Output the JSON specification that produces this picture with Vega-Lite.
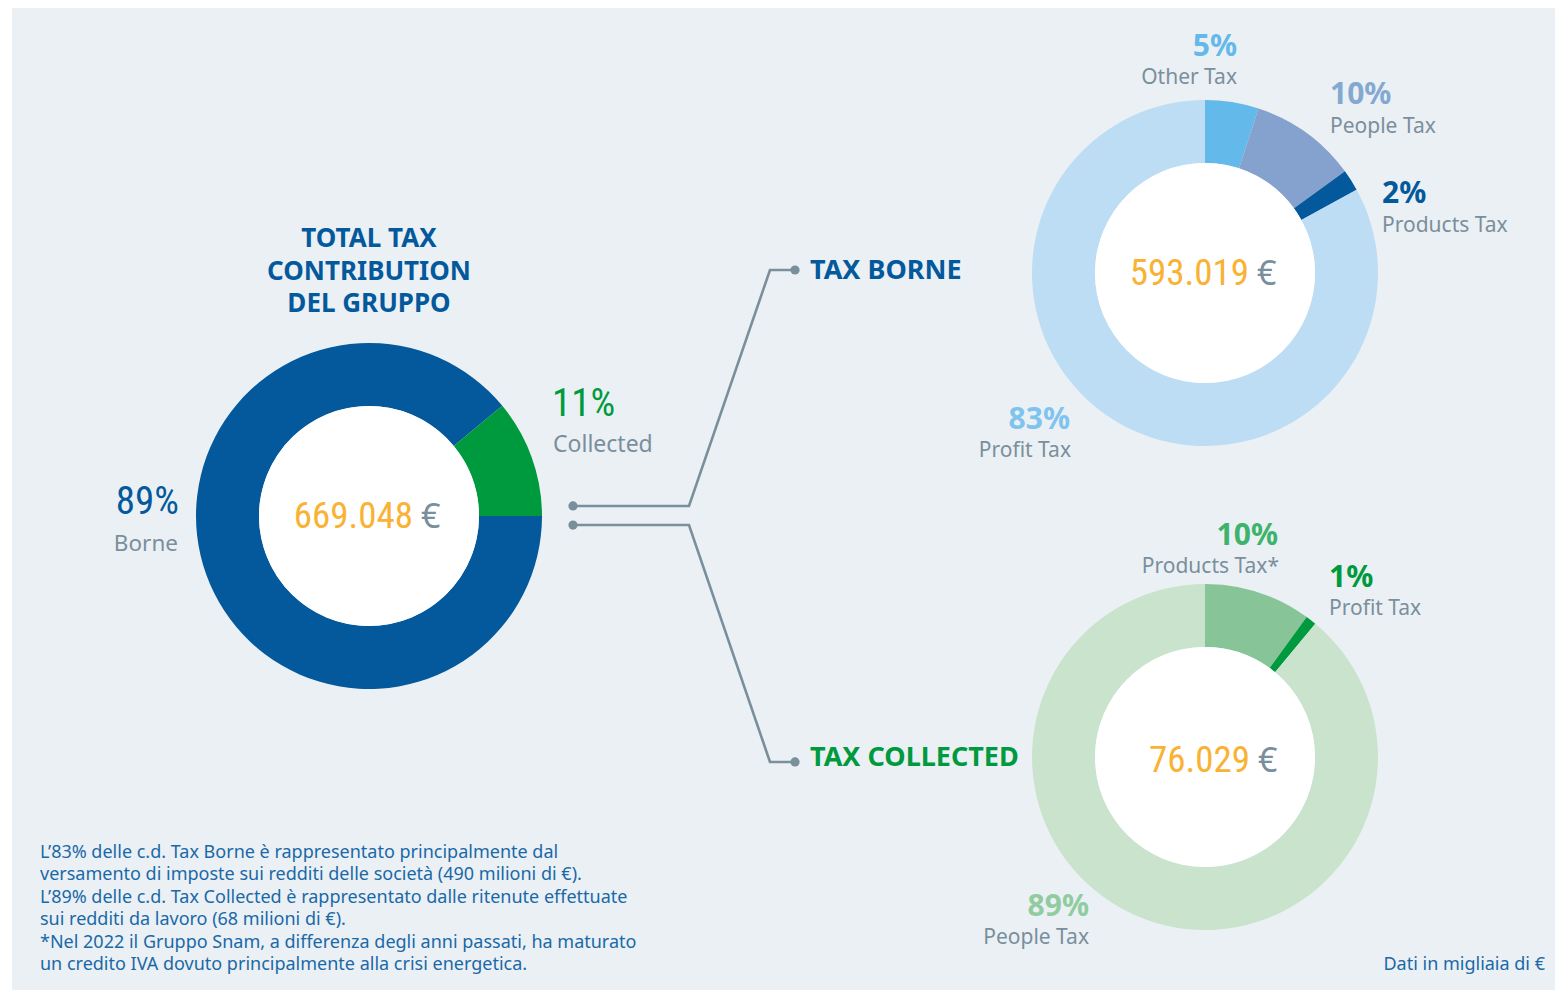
{
  "$schema": "https://vega.github.io/schema/vega-lite/v6.json",
  "background": "white",
  "padding": {"left": 12, "top": 8, "right": 2, "bottom": 2},
  "config": {
    "view": {"fill": "#EBF0F5", "stroke": null},
    "font": "Noto Sans",
    "locale": {"number": {"decimal": ",", "thousands": ".", "grouping": [3], "currency": ["", " €"]}}
  },
  "datasets": {
    "total": [
      {"seg": "Borne", "pct": 0.89, "k": 1},
      {"seg": "Collected", "pct": 0.11, "k": 2}
    ],
    "borne": [
      {"seg": "Other Tax", "pct": 0.05, "k": 1},
      {"seg": "People Tax", "pct": 0.10, "k": 2},
      {"seg": "Products Tax", "pct": 0.02, "k": 3},
      {"seg": "Profit Tax", "pct": 0.83, "k": 4}
    ],
    "collected": [
      {"seg": "Products Tax*", "pct": 0.10, "k": 1},
      {"seg": "Profit Tax", "pct": 0.01, "k": 2},
      {"seg": "People Tax", "pct": 0.89, "k": 3}
    ],
    "amounts": [
      {"group": "Total", "amount": 669048, "unit": "€"},
      {"group": "Borne", "amount": 593019, "unit": "€"},
      {"group": "Collected", "amount": 76029, "unit": "€"}
    ],
    "connectors": [
      {"conn": "borne", "k": 1, "x": 9.9, "y": 50.71},
      {"conn": "borne", "k": 2, "x": 46.96, "y": 50.71},
      {"conn": "borne", "k": 3, "x": 72.84, "y": 26.68},
      {"conn": "borne", "k": 4, "x": 80.83, "y": 26.68},
      {"conn": "collected", "k": 1, "x": 9.9, "y": 52.65},
      {"conn": "collected", "k": 2, "x": 46.96, "y": 52.65},
      {"conn": "collected", "k": 3, "x": 72.84, "y": 76.78},
      {"conn": "collected", "k": 4, "x": 80.83, "y": 76.78}
    ],
    "dots": [
      {"x": 9.9, "y": 50.71},
      {"x": 9.9, "y": 52.65},
      {"x": 80.83, "y": 26.68},
      {"x": 80.83, "y": 76.78}
    ]
  },
  "hconcat": [
    {
      "width": 184, "height": 982,
      "view": {"fill": "#EBF0F5", "stroke": null},
      "data": {"values": [{}]},
      "mark": {"type": "text"},
      "encoding": {"text": {"value": ""}}
    },
    {
      "width": 346, "height": 982,
      "view": {"fill": "#EBF0F5", "stroke": null},
      "data": {"name": "total"},
      "layer": [
        {
          "mark": {"type": "arc", "outerRadius": 173, "innerRadius": 110, "yOffset": 17},
          "encoding": {
            "theta": {"field": "pct", "type": "quantitative", "stack": true, "scale": {"range": [1.5708, 7.854]}},
            "order": {"field": "k"},
            "color": {"field": "seg", "type": "nominal", "scale": {"domain": ["Borne", "Collected"], "range": ["#03599B", "#009A3E"]}, "legend": null}
          }
        },
        {
          "data": {"values": [{"v": 1}]},
          "mark": {"type": "arc", "outerRadius": 110, "fill": "white", "yOffset": 17},
          "encoding": {"theta": {"field": "v", "type": "quantitative", "scale": {"domain": [0, 1]}}}
        },
        {
          "transform": [{"filter": "datum.k === 1"}],
          "mark": {"type": "text", "align": "center", "baseline": "middle", "dy": -260, "lineHeight": 32.5, "fontSize": 26, "fontWeight": "bold", "color": "#03599B"},
          "encoding": {"text": {"value": ["TOTAL TAX", "CONTRIBUTION", "DEL GRUPPO"]}}
        },
        {
          "transform": [{"filter": "datum.seg === 'Borne'"}],
          "mark": {"type": "text", "align": "right", "baseline": "middle", "dx": -190, "dy": 3, "font": "'Roboto Condensed', 'Open Sans Condensed', 'Liberation Sans Narrow', 'Noto Sans'", "fontSize": 39, "color": "#03599B"},
          "encoding": {"text": {"field": "pct", "type": "quantitative", "format": ".0%"}}
        },
        {
          "transform": [{"filter": "datum.seg === 'Borne'"}],
          "mark": {"type": "text", "align": "right", "baseline": "middle", "dx": -191, "dy": 45, "fontSize": 22.5, "color": "#7A8F9C"},
          "encoding": {"text": {"field": "seg"}}
        },
        {
          "data": {"name": "amounts"},
          "transform": [{"filter": "datum.group === 'Total'"}],
          "mark": {"type": "text", "align": "right", "baseline": "middle", "dx": 44, "dy": 18, "font": "'Roboto Condensed', 'Open Sans Condensed', 'Liberation Sans Narrow', 'Noto Sans'", "fontSize": 37, "color": "#F9B233"},
          "encoding": {"text": {"field": "amount", "type": "quantitative", "format": ",d"}}
        },
        {
          "data": {"name": "amounts"},
          "transform": [{"filter": "datum.group === 'Total'"}],
          "mark": {"type": "text", "align": "left", "baseline": "middle", "dx": 52, "dy": 19, "fontSize": 34, "color": "#7A8F9C"},
          "encoding": {"text": {"field": "unit"}}
        }
      ],
      "resolve": {"scale": {"theta": "independent"}}
    },
    {
      "width": 313, "height": 982,
      "view": {"fill": "#EBF0F5", "stroke": null},
      "layer": [
        {
          "data": {"name": "connectors"},
          "mark": {"type": "line", "color": "#7A8F9C", "strokeWidth": 2.6},
          "encoding": {
            "x": {"field": "x", "type": "quantitative", "scale": {"domain": [0, 100]}, "axis": null},
            "y": {"field": "y", "type": "quantitative", "scale": {"domain": [0, 100], "reverse": true}, "axis": null},
            "detail": {"field": "conn"},
            "order": {"field": "k"}
          }
        },
        {
          "data": {"name": "dots"},
          "mark": {"type": "circle", "size": 85, "color": "#7A8F9C", "opacity": 1},
          "encoding": {
            "x": {"field": "x", "type": "quantitative"},
            "y": {"field": "y", "type": "quantitative"}
          }
        },
        {
          "data": {"name": "total"},
          "transform": [{"filter": "datum.seg === 'Collected'"}],
          "mark": {"type": "text", "align": "left", "baseline": "middle", "dx": -146.5, "dy": -95, "font": "'Roboto Condensed', 'Open Sans Condensed', 'Liberation Sans Narrow', 'Noto Sans'", "fontSize": 39, "color": "#009A3E"},
          "encoding": {"text": {"field": "pct", "type": "quantitative", "format": ".0%"}}
        },
        {
          "data": {"name": "total"},
          "transform": [{"filter": "datum.seg === 'Collected'"}],
          "mark": {"type": "text", "align": "left", "baseline": "middle", "dx": -145.5, "dy": -54, "fontSize": 23, "color": "#7A8F9C"},
          "encoding": {"text": {"field": "seg"}}
        },
        {
          "data": {"values": [{}]},
          "mark": {"type": "text", "align": "left", "baseline": "middle", "dx": -658.5, "dy": 354, "lineHeight": 22.4, "fontSize": 18, "color": "#1A69A7"},
          "encoding": {"text": {"value": [
            "L’83% delle c.d. Tax Borne è rappresentato principalmente dal",
            "versamento di imposte sui redditi delle società (490 milioni di €).",
            "L’89% delle c.d. Tax Collected è rappresentato dalle ritenute effettuate",
            "sui redditi da lavoro (68 milioni di €).",
            "*Nel 2022 il Gruppo Snam, a differenza degli anni passati, ha maturato",
            "un credito IVA dovuto principalmente alla crisi energetica."
          ]}}
        }
      ]
    },
    {
      "width": 700, "height": 982,
      "view": {"fill": "#EBF0F5", "stroke": null},
      "layer": [
        {
          "data": {"name": "borne"},
          "mark": {"type": "arc", "outerRadius": 173, "innerRadius": 110, "yOffset": -226},
          "encoding": {
            "theta": {"field": "pct", "type": "quantitative", "stack": true},
            "order": {"field": "k"},
            "color": {"field": "seg", "type": "nominal", "scale": {"domain": ["Other Tax", "People Tax", "Products Tax", "Profit Tax"], "range": ["#63B9E9", "#85A1CD", "#03599B", "#BCDDF4"]}, "legend": null}
          }
        },
        {
          "data": {"name": "collected"},
          "mark": {"type": "arc", "outerRadius": 173, "innerRadius": 110, "yOffset": 258},
          "encoding": {
            "theta": {"field": "pct", "type": "quantitative", "stack": true},
            "order": {"field": "k"},
            "color": {"field": "seg", "type": "nominal", "scale": {"domain": ["Products Tax*", "Profit Tax", "People Tax"], "range": ["#87C598", "#009A3E", "#C9E3CD"]}, "legend": null}
          }
        },
        {
          "data": {"values": [{"v": 1}]},
          "mark": {"type": "arc", "outerRadius": 110, "fill": "white", "yOffset": -226},
          "encoding": {"theta": {"field": "v", "type": "quantitative", "scale": {"domain": [0, 1]}}}
        },
        {
          "data": {"values": [{"v": 1}]},
          "mark": {"type": "arc", "outerRadius": 110, "fill": "white", "yOffset": 258},
          "encoding": {"theta": {"field": "v", "type": "quantitative", "scale": {"domain": [0, 1]}}}
        },
        {
          "data": {"values": [{}]},
          "mark": {"type": "text", "align": "left", "baseline": "middle", "dx": -395, "dy": -228, "fontSize": 27, "fontWeight": "bold", "color": "#03599B"},
          "encoding": {"text": {"value": "TAX BORNE"}}
        },
        {
          "data": {"values": [{}]},
          "mark": {"type": "text", "align": "left", "baseline": "middle", "dx": -395, "dy": 259, "fontSize": 27, "fontWeight": "bold", "color": "#009A3E"},
          "encoding": {"text": {"value": "TAX COLLECTED"}}
        },
        {
          "data": {"name": "borne"},
          "transform": [{"filter": "datum.seg === 'Other Tax'"}],
          "mark": {"type": "text", "align": "right", "baseline": "middle", "dx": 32, "dy": -452, "fontSize": 30, "fontWeight": "bold", "color": "#63B9E9"},
          "encoding": {"text": {"field": "pct", "type": "quantitative", "format": ".0%"}}
        },
        {
          "data": {"name": "borne"},
          "transform": [{"filter": "datum.seg === 'Other Tax'"}],
          "mark": {"type": "text", "align": "right", "baseline": "middle", "dx": 32, "dy": -421, "fontSize": 21, "color": "#7A8F9C"},
          "encoding": {"text": {"field": "seg"}}
        },
        {
          "data": {"name": "borne"},
          "transform": [{"filter": "datum.seg === 'People Tax'"}],
          "mark": {"type": "text", "align": "left", "baseline": "middle", "dx": 125, "dy": -404, "fontSize": 30, "fontWeight": "bold", "color": "#84A9D1"},
          "encoding": {"text": {"field": "pct", "type": "quantitative", "format": ".0%"}}
        },
        {
          "data": {"name": "borne"},
          "transform": [{"filter": "datum.seg === 'People Tax'"}],
          "mark": {"type": "text", "align": "left", "baseline": "middle", "dx": 125, "dy": -372, "fontSize": 21, "color": "#7A8F9C"},
          "encoding": {"text": {"field": "seg"}}
        },
        {
          "data": {"name": "borne"},
          "transform": [{"filter": "datum.seg === 'Products Tax'"}],
          "mark": {"type": "text", "align": "left", "baseline": "middle", "dx": 177, "dy": -305, "fontSize": 30, "fontWeight": "bold", "color": "#03599B"},
          "encoding": {"text": {"field": "pct", "type": "quantitative", "format": ".0%"}}
        },
        {
          "data": {"name": "borne"},
          "transform": [{"filter": "datum.seg === 'Products Tax'"}],
          "mark": {"type": "text", "align": "left", "baseline": "middle", "dx": 177, "dy": -273, "fontSize": 21, "color": "#7A8F9C"},
          "encoding": {"text": {"field": "seg"}}
        },
        {
          "data": {"name": "borne"},
          "transform": [{"filter": "datum.seg === 'Profit Tax'"}],
          "mark": {"type": "text", "align": "right", "baseline": "middle", "dx": -135, "dy": -79, "fontSize": 30, "fontWeight": "bold", "color": "#7FC4EE"},
          "encoding": {"text": {"field": "pct", "type": "quantitative", "format": ".0%"}}
        },
        {
          "data": {"name": "borne"},
          "transform": [{"filter": "datum.seg === 'Profit Tax'"}],
          "mark": {"type": "text", "align": "right", "baseline": "middle", "dx": -134, "dy": -48, "fontSize": 21, "color": "#7A8F9C"},
          "encoding": {"text": {"field": "seg"}}
        },
        {
          "data": {"name": "collected"},
          "transform": [{"filter": "datum.seg === 'Products Tax*'"}],
          "mark": {"type": "text", "align": "right", "baseline": "middle", "dx": 73, "dy": 37, "fontSize": 30, "fontWeight": "bold", "color": "#3EB36B"},
          "encoding": {"text": {"field": "pct", "type": "quantitative", "format": ".0%"}}
        },
        {
          "data": {"name": "collected"},
          "transform": [{"filter": "datum.seg === 'Products Tax*'"}],
          "mark": {"type": "text", "align": "right", "baseline": "middle", "dx": 74, "dy": 68, "fontSize": 21, "color": "#7A8F9C"},
          "encoding": {"text": {"field": "seg"}}
        },
        {
          "data": {"name": "collected"},
          "transform": [{"filter": "datum.seg === 'Profit Tax'"}],
          "mark": {"type": "text", "align": "left", "baseline": "middle", "dx": 124, "dy": 79, "fontSize": 30, "fontWeight": "bold", "color": "#009A3E"},
          "encoding": {"text": {"field": "pct", "type": "quantitative", "format": ".0%"}}
        },
        {
          "data": {"name": "collected"},
          "transform": [{"filter": "datum.seg === 'Profit Tax'"}],
          "mark": {"type": "text", "align": "left", "baseline": "middle", "dx": 124, "dy": 110, "fontSize": 21, "color": "#7A8F9C"},
          "encoding": {"text": {"field": "seg"}}
        },
        {
          "data": {"name": "collected"},
          "transform": [{"filter": "datum.seg === 'People Tax'"}],
          "mark": {"type": "text", "align": "right", "baseline": "middle", "dx": -116, "dy": 408, "fontSize": 30, "fontWeight": "bold", "color": "#90CCA0"},
          "encoding": {"text": {"field": "pct", "type": "quantitative", "format": ".0%"}}
        },
        {
          "data": {"name": "collected"},
          "transform": [{"filter": "datum.seg === 'People Tax'"}],
          "mark": {"type": "text", "align": "right", "baseline": "middle", "dx": -116, "dy": 439, "fontSize": 21, "color": "#7A8F9C"},
          "encoding": {"text": {"field": "seg"}}
        },
        {
          "data": {"name": "amounts"},
          "transform": [{"filter": "datum.group === 'Borne'"}],
          "mark": {"type": "text", "align": "right", "baseline": "middle", "dx": 44, "dy": -225, "font": "'Roboto Condensed', 'Open Sans Condensed', 'Liberation Sans Narrow', 'Noto Sans'", "fontSize": 37, "color": "#F9B233"},
          "encoding": {"text": {"field": "amount", "type": "quantitative", "format": ",d"}}
        },
        {
          "data": {"name": "amounts"},
          "transform": [{"filter": "datum.group === 'Borne'"}],
          "mark": {"type": "text", "align": "left", "baseline": "middle", "dx": 52, "dy": -224, "fontSize": 34, "color": "#7A8F9C"},
          "encoding": {"text": {"field": "unit"}}
        },
        {
          "data": {"name": "amounts"},
          "transform": [{"filter": "datum.group === 'Collected'"}],
          "mark": {"type": "text", "align": "right", "baseline": "middle", "dx": 45, "dy": 262, "font": "'Roboto Condensed', 'Open Sans Condensed', 'Liberation Sans Narrow', 'Noto Sans'", "fontSize": 37, "color": "#F9B233"},
          "encoding": {"text": {"field": "amount", "type": "quantitative", "format": ",d"}}
        },
        {
          "data": {"name": "amounts"},
          "transform": [{"filter": "datum.group === 'Collected'"}],
          "mark": {"type": "text", "align": "left", "baseline": "middle", "dx": 53, "dy": 263, "fontSize": 34, "color": "#7A8F9C"},
          "encoding": {"text": {"field": "unit"}}
        },
        {
          "data": {"values": [{}]},
          "mark": {"type": "text", "align": "right", "baseline": "middle", "dx": 340, "dy": 466, "fontSize": 18, "color": "#1A69A7"},
          "encoding": {"text": {"value": "Dati in migliaia di €"}}
        }
      ],
      "resolve": {"scale": {"theta": "independent", "color": "independent"}}
    }
  ],
  "spacing": 0,
  "bounds": "flush",
  "resolve": {"scale": {"color": "independent", "theta": "independent", "x": "independent", "y": "independent"}}
}
